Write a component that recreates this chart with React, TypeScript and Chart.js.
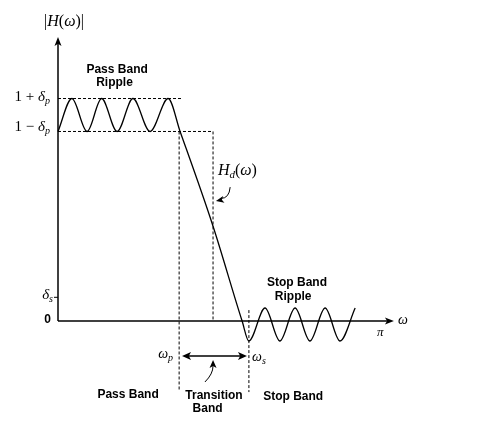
import React, { useEffect, useRef } from "react";
import { Chart, registerables } from "chart.js";

Chart.register(...registerables);

// ---- data (x: ω in units of π, y: |H(ω)|) ----
const DELTA_P = 0.08;
const DELTA_S = 0.115;
const OMEGA_P = 0.375;
const OMEGA_S = 0.591;
const BOX_EDGE = 0.48;

const responseW = [0, 0.043, 0.09, 0.135, 0.183, 0.232, 0.285, 0.341, 0.378, 0.48, 0.57, 0.591, 0.641, 0.687, 0.734, 0.78, 0.827, 0.873, 0.92];
const responseH = [0.92, 1.08, 0.92, 1.08, 0.92, 1.08, 0.92, 1.08, 0.92, 0.46, 0, -0.097, 0.063, -0.097, 0.063, -0.097, 0.063, -0.097, 0.063];

const xAxisW = [0, 1.04];
const yAxisTop = 1.379;
const upperDashEnd = 0.381;
const omegaPBottom = -0.335;
const omegaSTop = 0.053;
const omegaSBottom = -0.345;

// ---- view ----
const X_MIN = -58 / 323;
const X_MAX = 443 / 323;
const Y_MIN = -105 / 206;
const Y_MAX = 321 / 206;

const SERIF = '"Liberation Serif", "DejaVu Serif", serif';
const SANS = '"Liberation Sans", Arial, sans-serif';

type Seg = { t: string; f: string; dy?: number };

const pts = (xs: number[], ys: number[]) => xs.map((x, i) => ({ x, y: ys[i] }));

const labels: { x: number; y: number; align: "left" | "center" | "right"; segs: Seg[] }[] = [
  { x: 0.0186, y: 1.451, align: "center", segs: [
    { t: "|", f: `16px ${SERIF}` }, { t: "H", f: `italic 16px ${SERIF}` }, { t: "(", f: `16px ${SERIF}` },
    { t: "ω", f: `italic 16px ${SERIF}` }, { t: ")|", f: `16px ${SERIF}` }] },
  { x: -0.0248, y: 1.087, align: "right", segs: [
    { t: "1 + ", f: `15px ${SERIF}` }, { t: "δ", f: `italic 15px ${SERIF}` }, { t: "p", f: `italic 10px ${SERIF}`, dy: 4 }] },
  { x: -0.0248, y: 0.942, align: "right", segs: [
    { t: "1 − ", f: `15px ${SERIF}` }, { t: "δ", f: `italic 15px ${SERIF}` }, { t: "p", f: `italic 10px ${SERIF}`, dy: 4 }] },
  { x: -0.0155, y: 0.126, align: "right", segs: [
    { t: "δ", f: `italic 15px ${SERIF}` }, { t: "s", f: `italic 10px ${SERIF}`, dy: 4 }] },
  { x: -0.0217, y: 0.005, align: "right", segs: [{ t: "0", f: `bold 12px ${SANS}` }] },
  { x: 0.495, y: 0.728, align: "left", segs: [
    { t: "H", f: `italic 16px ${SERIF}` }, { t: "d", f: `italic 11px ${SERIF}`, dy: 4 }, { t: "(", f: `16px ${SERIF}` },
    { t: "ω", f: `italic 16px ${SERIF}` }, { t: ")", f: `16px ${SERIF}` }] },
  { x: 0.31, y: -0.16, align: "left", segs: [
    { t: "ω", f: `italic 14px ${SERIF}` }, { t: "p", f: `italic 10px ${SERIF}`, dy: 4 }] },
  { x: 0.601, y: -0.175, align: "left", segs: [
    { t: "ω", f: `italic 14px ${SERIF}` }, { t: "s", f: `italic 10px ${SERIF}`, dy: 4 }] },
  { x: 0.998, y: -0.058, align: "center", segs: [{ t: "π", f: `italic 13px ${SERIF}` }] },
  { x: 1.053, y: 0.005, align: "left", segs: [{ t: "ω", f: `italic 14px ${SERIF}` }] },
  { x: 0.183, y: 1.218, align: "center", segs: [{ t: "Pass Band", f: `bold 12px ${SANS}` }] },
  { x: 0.175, y: 1.155, align: "center", segs: [{ t: "Ripple", f: `bold 12px ${SANS}` }] },
  { x: 0.74, y: 0.184, align: "center", segs: [{ t: "Stop Band", f: `bold 12px ${SANS}` }] },
  { x: 0.728, y: 0.117, align: "center", segs: [{ t: "Ripple", f: `bold 12px ${SANS}` }] },
  { x: 0.217, y: -0.359, align: "center", segs: [{ t: "Pass Band", f: `bold 12px ${SANS}` }] },
  { x: 0.483, y: -0.364, align: "center", segs: [{ t: "Transition", f: `bold 12px ${SANS}` }] },
  { x: 0.463, y: -0.427, align: "center", segs: [{ t: "Band", f: `bold 12px ${SANS}` }] },
  { x: 0.728, y: -0.369, align: "center", segs: [{ t: "Stop Band", f: `bold 12px ${SANS}` }] },
];

function head(ctx: CanvasRenderingContext2D, x: number, y: number, ang: number, len = 8, half = 3.5) {
  ctx.save();
  ctx.translate(x, y);
  ctx.rotate(ang);
  ctx.beginPath();
  ctx.moveTo(0, 0);
  ctx.lineTo(-len, -half);
  ctx.lineTo(-len * 0.75, 0);
  ctx.lineTo(-len, half);
  ctx.closePath();
  ctx.fillStyle = "#000";
  ctx.fill();
  ctx.restore();
}

const annot = {
  id: "annot",
  afterDatasetsDraw(chart: any) {
    const { ctx } = chart;
    const sx = chart.scales.x;
    const sy = chart.scales.y;
    const X = (v: number) => sx.getPixelForValue(v);
    const Y = (v: number) => sy.getPixelForValue(v);
    ctx.save();
    // axis arrowheads
    head(ctx, X(0), Y(yAxisTop), -Math.PI / 2, 9, 3.5);
    head(ctx, X(xAxisW[1]), Y(0), 0, 9, 3.5);
    // transition double arrow
    const ya = Y(-0.17);
    ctx.strokeStyle = "#000";
    ctx.lineWidth = 1.5;
    ctx.beginPath();
    ctx.moveTo(X(0.384) + 4, ya);
    ctx.lineTo(X(0.585) - 4, ya);
    ctx.stroke();
    head(ctx, X(0.384), ya, Math.PI, 9, 4);
    head(ctx, X(0.585), ya, 0, 9, 4);
    // Transition curved arrow
    ctx.lineWidth = 1;
    let sxp = X(0.455), syp = Y(-0.296), cx = X(0.48), cy = Y(-0.257), tx = X(0.48), ty = Y(-0.189);
    ctx.beginPath();
    ctx.moveTo(sxp, syp);
    ctx.quadraticCurveTo(cx, cy, tx, ty + 6);
    ctx.stroke();
    head(ctx, tx, ty, -Math.PI / 2, 8, 3.5);
    // Hd curved arrow
    sxp = X(0.533); syp = Y(0.65); cx = X(0.53); cy = Y(0.595); tx = X(0.489); ty = Y(0.583);
    ctx.beginPath();
    ctx.moveTo(sxp, syp);
    ctx.quadraticCurveTo(cx, cy, tx + 5, ty - 2.5);
    ctx.stroke();
    head(ctx, tx, ty, Math.atan2(ty - cy, tx - cx), 8, 3.5);
    // labels
    ctx.fillStyle = "#000";
    ctx.textBaseline = "middle";
    ctx.textAlign = "left";
    for (const l of labels) {
      let w = 0;
      for (const s of l.segs) { ctx.font = s.f; w += ctx.measureText(s.t).width; }
      let x0 = X(l.x);
      if (l.align === "center") x0 -= w / 2;
      else if (l.align === "right") x0 -= w;
      const y0 = Y(l.y);
      for (const s of l.segs) {
        ctx.font = s.f;
        ctx.fillText(s.t, x0, y0 + (s.dy || 0));
        x0 += ctx.measureText(s.t).width;
      }
    }
    ctx.restore();
  },
};

export default function App() {
  const ref = useRef<HTMLCanvasElement>(null);
  useEffect(() => {
    if (!ref.current) return;
    const dash = { borderColor: "#000", borderWidth: 1, borderDash: [3, 2], pointRadius: 0, fill: false, tension: 0 };
    const solid = { borderColor: "#000", pointRadius: 0, fill: false, tension: 0 };
    const chart = new Chart(ref.current, {
      type: "line",
      data: {
        datasets: [
          { ...dash, data: [{ x: 0, y: 1 + DELTA_P }, { x: upperDashEnd, y: 1 + DELTA_P }] },
          { ...dash, data: [{ x: 0, y: 1 - DELTA_P }, { x: BOX_EDGE, y: 1 - DELTA_P }, { x: BOX_EDGE, y: 0 }] },
          { ...dash, data: [{ x: OMEGA_P, y: 1 - DELTA_P }, { x: OMEGA_P, y: omegaPBottom }] },
          { ...dash, data: [{ x: OMEGA_S, y: omegaSTop }, { x: OMEGA_S, y: omegaSBottom }] },
          { ...solid, borderWidth: 1.5, data: [{ x: xAxisW[0], y: 0 }, { x: xAxisW[1] - 0.015, y: 0 }] },
          { ...solid, borderWidth: 1.5, data: [{ x: 0, y: 0 }, { x: 0, y: yAxisTop - 0.03 }] },
          { ...solid, borderWidth: 1, data: [{ x: -0.0124, y: DELTA_S }, { x: 0, y: DELTA_S }] },
          { borderColor: "#000", borderWidth: 1.3, pointRadius: 0, fill: false, cubicInterpolationMode: "monotone", data: pts(responseW, responseH) },
        ],
      },
      options: {
        responsive: false,
        animation: false,
        events: [],
        layout: { padding: 0 },
        plugins: { legend: { display: false }, tooltip: { enabled: false } },
        scales: {
          x: { type: "linear", min: X_MIN, max: X_MAX, display: false },
          y: { type: "linear", min: Y_MIN, max: Y_MAX, display: false },
        },
      } as any,
      plugins: [annot],
    } as any);
    return () => chart.destroy();
  }, []);
  return (
    <div style={{ position: "fixed", left: 0, top: 0, width: 501, height: 426, background: "#fff" }}>
      <canvas ref={ref} width={501} height={426} style={{ display: "block" }} />
    </div>
  );
}
